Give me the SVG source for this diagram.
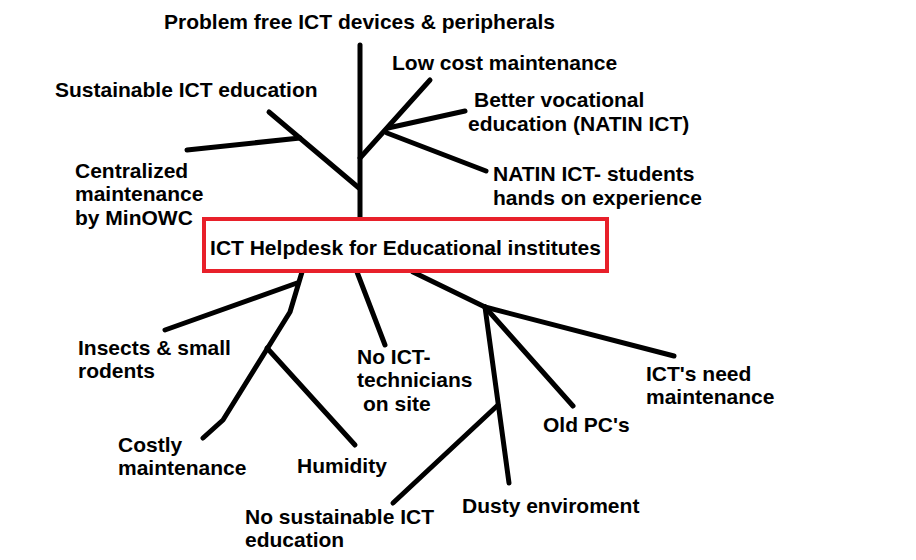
<svg xmlns="http://www.w3.org/2000/svg" width="916" height="560" viewBox="0 0 916 560">
<style>
text{font-family:"Liberation Sans",Arial,sans-serif;font-weight:bold;font-size:21px;fill:#000}
.c{stroke:#000;stroke-width:5;fill:none;stroke-linecap:round;stroke-linejoin:round}
.box{fill:#fff;stroke:#e8202a;stroke-width:4}
</style>
<rect width="916" height="560" fill="#fff"/>
<g id="connectors" class="c">
<line x1="360" y1="45" x2="360" y2="218"/>
<line x1="359" y1="188" x2="269" y2="112"/>
<line x1="300" y1="138" x2="187" y2="150"/>
<line x1="360" y1="158" x2="430" y2="80"/>
<line x1="388" y1="128" x2="465" y2="111"/>
<line x1="387" y1="133" x2="486" y2="171"/>
<polyline points="302,272 290,312 223,420 203,438"/>
<line x1="297" y1="283" x2="165" y2="330"/>
<line x1="267" y1="348" x2="355" y2="445"/>
<line x1="357" y1="272" x2="385" y2="345"/>
<line x1="413" y1="272" x2="485" y2="307"/>
<line x1="498" y1="405" x2="393" y2="503"/>
<line x1="485" y1="307" x2="509" y2="483"/>
<line x1="485" y1="307" x2="573" y2="406"/>
<line x1="485" y1="307" x2="674" y2="356"/>
</g>
<g id="root">
<rect class="box" x="204" y="219" width="403" height="52"/>
<text x="405.5" y="255" text-anchor="middle">ICT Helpdesk for Educational institutes</text>
</g>
<g id="n-problem-free"><text x="164" y="29">Problem free ICT devices &amp; peripherals</text></g>
<g id="n-low-cost"><text x="392" y="70">Low cost maintenance</text></g>
<g id="n-sustainable"><text x="55" y="97">Sustainable ICT education</text></g>
<g id="n-vocational"><text x="474" y="107">Better vocational</text><text x="468" y="131">education (NATIN ICT)</text></g>
<g id="n-natin"><text x="493" y="181">NATIN ICT- students</text><text x="493" y="205">hands on experience</text></g>
<g id="n-centralized"><text x="75" y="178">Centralized</text><text x="75" y="201">maintenance</text><text x="75" y="225">by MinOWC</text></g>
<g id="n-insects"><text x="78" y="355">Insects &amp; small</text><text x="78" y="378">rodents</text></g>
<g id="n-no-tech"><text x="357" y="364">No ICT-</text><text x="357" y="387">technicians</text><text x="363" y="411">on site</text></g>
<g id="n-costly"><text x="118" y="452">Costly</text><text x="118" y="475">maintenance</text></g>
<g id="n-humidity"><text x="297" y="473">Humidity</text></g>
<g id="n-no-sustainable"><text x="245" y="524">No sustainable ICT</text><text x="245" y="547">education</text></g>
<g id="n-ict-need"><text x="646" y="381">ICT's need</text><text x="646" y="404">maintenance</text></g>
<g id="n-old-pc"><text x="543" y="432">Old PC's</text></g>
<g id="n-dusty"><text x="462" y="513">Dusty enviroment</text></g>
</svg>
